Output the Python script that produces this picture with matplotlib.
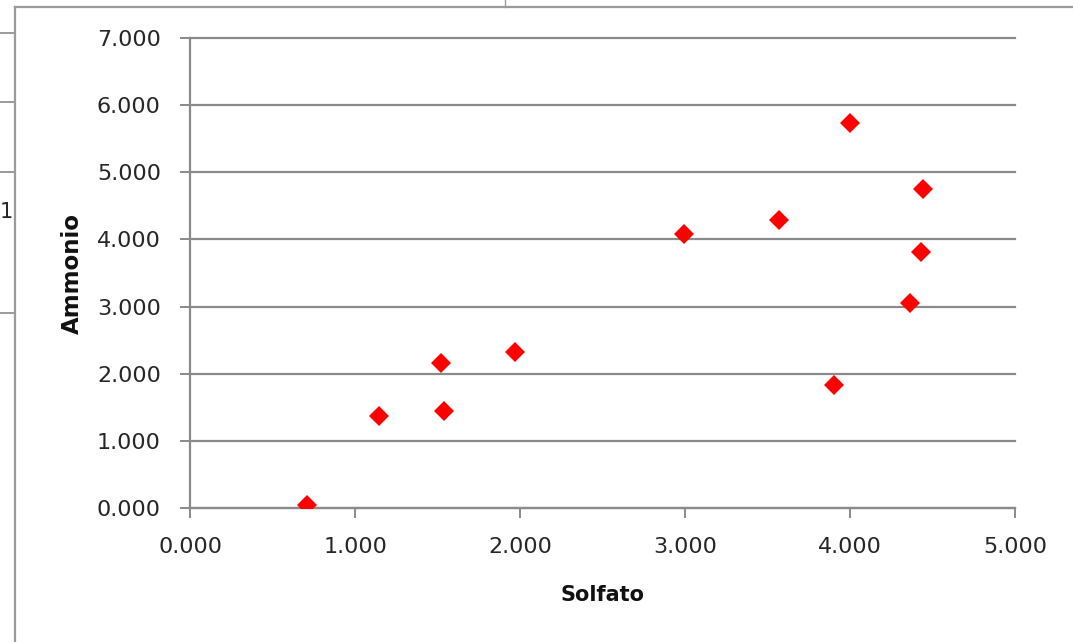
import matplotlib.pyplot as plt
from matplotlib.lines import Line2D

# Solfato vs Ammonio samples
solfato = [0.709, 1.145, 1.521, 1.539, 1.970, 2.994, 3.570, 4.000, 4.442, 4.430, 4.364, 3.903]
ammonio = [0.045, 1.370, 2.160, 1.445, 2.320, 4.080, 4.290, 5.730, 4.750, 3.810, 3.050, 1.830]

x_ticks = [0, 1, 2, 3, 4, 5]
y_ticks = [0, 1, 2, 3, 4, 5, 6, 7]

W, H = 1073, 642
fig = plt.figure(figsize=(W / 100, H / 100), dpi=100)
fig.patch.set_facecolor('white')

ax = fig.add_axes([190 / W, 1 - 508 / H, (1015 - 190) / W, (508 - 38) / H])
ax.plot(solfato, ammonio, linestyle='none', marker='D', markersize=10,
        color='#ff0000', markeredgewidth=0, zorder=3)

ax.set_xlim(0, 5)
ax.set_ylim(0, 7)
ax.set_xticks(x_ticks)
ax.set_yticks(y_ticks)
ax.set_xticklabels([f'{v:.3f}' for v in x_ticks])
ax.set_yticklabels([f'{v:.3f}' for v in y_ticks])

grid_col = '#8a8a8a'
ax.yaxis.grid(True, color=grid_col, linewidth=1.6)
for gl in ax.get_ygridlines():
    gl.set_clip_on(False)
ax.set_axisbelow(True)
for side in ['top', 'right']:
    ax.spines[side].set_visible(False)
for side in ['left', 'bottom']:
    ax.spines[side].set_color(grid_col)
    ax.spines[side].set_linewidth(1.6)
ax.tick_params(axis='both', direction='out', length=7, width=1.4, color=grid_col,
               labelsize=16, labelcolor='#262626', pad=14)

ax.set_xlabel('Solfato', fontsize=15, fontweight='bold', labelpad=20, color='#111111')
ax.set_ylabel('Ammonio', fontsize=16.5, fontweight='bold', labelpad=9, color='#111111')

# surrounding sheet frame and cut-off neighbour chart
edge = '#9a9a9a'
fig.add_artist(Line2D([15 / W, 15 / W], [0, 1 - 7 / H], transform=fig.transFigure,
                      color=edge, linewidth=1.6))
fig.add_artist(Line2D([15 / W, 1], [1 - 7 / H, 1 - 7 / H], transform=fig.transFigure,
                      color=edge, linewidth=1.6))
fig.add_artist(Line2D([505 / W, 505 / W], [1 - 7 / H, 1], transform=fig.transFigure,
                      color=edge, linewidth=1.0))
for yy in [33, 102, 172, 313]:
    fig.add_artist(Line2D([0, 13 / W], [1 - yy / H, 1 - yy / H], transform=fig.transFigure,
                          color=edge, linewidth=1.4))
fig.text(0 / W, 1 - 212 / H, '1', fontsize=15, color='#262626', va='center', ha='left')

fig.savefig('out.png', dpi=100, facecolor='white')
